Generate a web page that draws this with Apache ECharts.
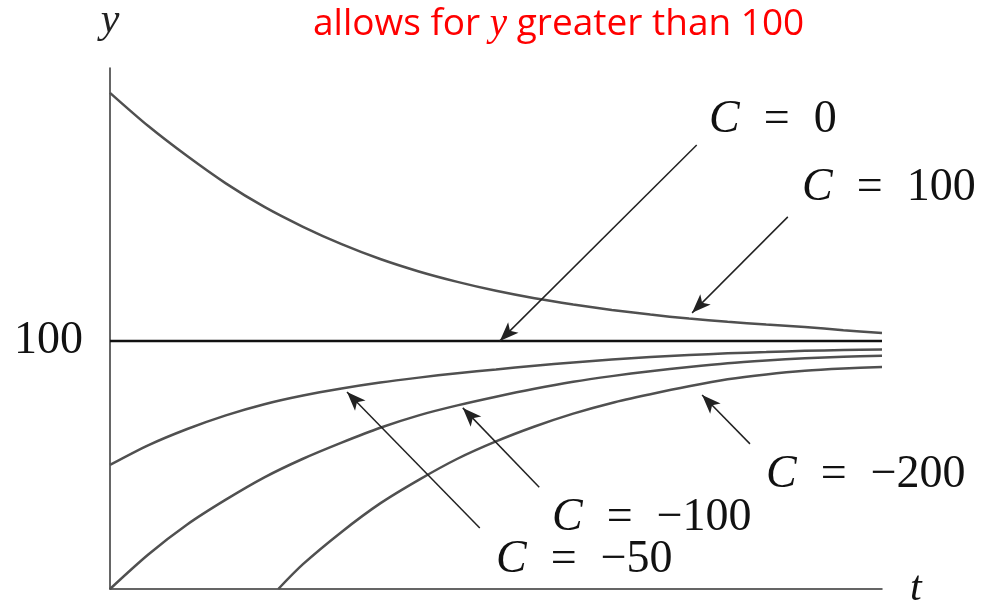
<!DOCTYPE html>
<html>
<head>
<meta charset="UTF-8">
<title>y = 100 + C e^(-kt)</title>
<script src="https://cdn.jsdelivr.net/npm/echarts@6/dist/echarts.min.js"></script>
<style>
  html, body { margin: 0; padding: 0; background: #fff; }
  #chart { width: 993px; height: 611px; }
</style>
</head>
<body>
<div id="chart"></div>
<script>
  // t positions shared by most curves
  const tVals = [0, 0.5, 1, 1.5, 2, 2.5, 3, 3.5, 4, 4.5, 5, 5.5, 6, 6.5, 7, 7.5, 8, 8.5, 9, 9.5, 10];
  // y values
  const c100  = [200, 186.5, 174.5, 163.5, 154, 146, 139, 133, 128, 123.8, 120.2, 117.2, 114.7, 112.5, 110.6, 109, 107.7, 106.6, 105.6, 104.3, 103.2];
  const c0    = [100, 100, 100, 100, 100, 100, 100, 100, 100, 100, 100, 100, 100, 100, 100, 100, 100, 100, 100, 100, 100];
  const cm50  = [50, 58, 64.5, 70, 74.5, 78, 80.8, 83.2, 85.2, 87, 88.5, 90, 91.3, 92.5, 93.5, 94.3, 95, 95.5, 96, 96.3, 96.5];
  const cm100 = [0, 14, 26, 36, 45, 52.5, 59, 65, 70, 74, 77.5, 80.7, 83.5, 85.8, 87.8, 89.5, 91, 92.1, 93, 93.6, 94];
  // C = -200 starts on the t axis a bit after t = 2
  const cm200T = [2.18, 2.5, 3, 3.5, 4, 4.5, 5, 5.5, 6, 6.5, 7, 7.5, 8, 8.5, 9, 9.5, 10];
  const cm200  = [0, 10, 23, 34.5, 44, 52.5, 59.5, 65.5, 70.7, 75, 78.5, 81.7, 84.5, 86.5, 88, 88.9, 89.5];

  // arrows: [tail, head] in data units
  const arrowC0    = [[7.6, 179], [5.05, 100]];
  const arrowC100  = [[8.78, 150], [7.54, 111.3]];
  const arrowCm50  = [[4.79, 24.6], [3.07, 79.4]];
  const arrowCm100 = [[5.56, 41], [4.57, 73]];
  const arrowCm200 = [[8.29, 58.5], [7.67, 78.2]];

  const labels = [
    { c: '0',    left: 709, top: 97 },
    { c: '100',  left: 802, top: 165 },
    { c: '−200', left: 766, top: 452 },
    { c: '−100', left: 552, top: 495 },
    { c: '−50',  left: 496, top: 537 }
  ];

  const chart = echarts.init(document.getElementById('chart'));

  const pair = (xs, ys) => xs.map((x, i) => [x, ys[i]]);

  const arrowMark = (a) => ({
    silent: true,
    symbol: ['none', 'arrow'],
    symbolSize: [11, 19],
    animation: false,
    label: { show: false },
    lineStyle: { color: '#222', width: 1.5, type: 'solid' },
    data: [[{ coord: a[0] }, { coord: a[1] }]]
  });

  const curve = (name, data, color, width, arrow) => ({
    name,
    type: 'line',
    data,
    smooth: 0.3,
    showSymbol: false,
    symbol: 'none',
    lineStyle: { color, width },
    markLine: arrowMark(arrow)
  });

  const serif = '"Liberation Serif", "DejaVu Serif", serif';
  const mathRich = {
    c: { fontSize: 46, fontStyle: 'italic', fontFamily: serif, fill: '#111' },
    e: { fontSize: 46, fontFamily: serif, fill: '#111', width: 74, align: 'center' },
    n: { fontSize: 46, fontFamily: serif, fill: '#111' }
  };

  chart.setOption({
    animation: false,
    backgroundColor: '#fff',
    title: {
      text: '{a|allows for }{b|y}{a| greater than 100}',
      left: 308,
      top: 0,
      textStyle: {
        fontWeight: 'normal',
        rich: {
          a: { color: '#ff0000', fontSize: 37, fontWeight: 'normal', fontFamily: '"Open Sans", "Noto Sans", sans-serif' },
          b: { color: '#ff0000', fontSize: 39, fontWeight: 'normal', fontStyle: 'italic', fontFamily: serif }
        }
      }
    },
    grid: { left: 110, right: 111, top: 67, bottom: 22 },
    xAxis: {
      type: 'value',
      min: 0,
      max: 10,
      name: 't',
      nameLocation: 'end',
      nameGap: 28,
      nameTextStyle: { fontSize: 42, fontStyle: 'italic', fontFamily: serif, color: '#111', verticalAlign: 'middle', padding: [12, 0, 0, 0] },
      axisLine: { lineStyle: { color: '#333', width: 1.5 } },
      axisTick: { show: false },
      axisLabel: { show: false },
      splitLine: { show: false }
    },
    yAxis: {
      type: 'value',
      min: 0,
      max: 210,
      interval: 100,
      name: 'y',
      nameLocation: 'end',
      nameGap: 26,
      nameTextStyle: { fontSize: 42, fontStyle: 'italic', fontFamily: serif, color: '#222', align: 'center' },
      axisLine: { show: true, lineStyle: { color: '#333', width: 1.5 } },
      axisTick: { show: false },
      splitLine: { show: false },
      axisLabel: {
        margin: 27,
        fontSize: 46,
        fontFamily: serif,
        color: '#111',
        formatter: v => (v === 100 ? '100' : '')
      }
    },
    graphic: labels.map(l => ({
      type: 'text',
      left: l.left,
      top: l.top,
      style: {
        text: '{c|C}{e|=}{n|' + l.c + '}',
        rich: mathRich
      }
    })),
    series: [
      curve('C = 100', pair(tVals, c100), '#505050', 2.5, arrowC100),
      curve('C = 0', pair(tVals, c0), '#111', 2.5, arrowC0),
      curve('C = -50', pair(tVals, cm50), '#505050', 2.5, arrowCm50),
      curve('C = -100', pair(tVals, cm100), '#505050', 2.5, arrowCm100),
      curve('C = -200', pair(cm200T, cm200), '#505050', 2.5, arrowCm200)
    ]
  });
</script>
</body>
</html>
